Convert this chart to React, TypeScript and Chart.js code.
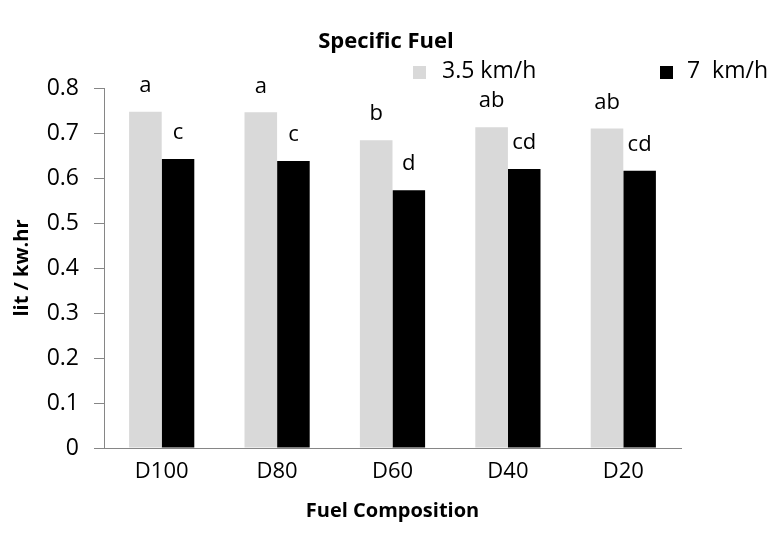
import React, { useEffect, useRef } from "react";
import { Chart, registerables } from "chart.js";

Chart.register(...registerables);

const categories = ["D100", "D80", "D60", "D40", "D20"];
const seriesNames = ["3.5 km/h", "7  km/h"];
const slowValues = [0.747, 0.746, 0.684, 0.713, 0.71];
const fastValues = [0.642, 0.638, 0.573, 0.62, 0.616];
const slowLetters = ["a", "a", "b", "ab", "ab"];
const fastLetters = ["c", "c", "d", "cd", "cd"];
const yTicks = [0, 0.1, 0.2, 0.3, 0.4, 0.5, 0.6, 0.7, 0.8];
const chartTitle = "Specific Fuel";

const FONT = "'Open Sans', 'Noto Sans', sans-serif";

const letterPlugin = {
  id: "letters",
  afterDatasetsDraw(chart: any) {
    const ctx = chart.ctx;
    const sets = [slowLetters, fastLetters];
    ctx.save();
    ctx.fillStyle = "#000";
    ctx.font = `22px ${FONT}`;
    ctx.textAlign = "center";
    ctx.textBaseline = "middle";
    sets.forEach((letters, di) => {
      const meta = chart.getDatasetMeta(di);
      meta.data.forEach((bar: any, i: number) => {
        ctx.fillText(letters[i], bar.x, bar.y - 26);
      });
    });
    ctx.restore();
  },
};

const headerPlugin = {
  id: "header",
  afterDraw(chart: any) {
    const ctx = chart.ctx;
    ctx.save();
    ctx.fillStyle = "#000";
    ctx.font = `bold 22px ${FONT}`;
    ctx.textAlign = "center";
    ctx.textBaseline = "middle";
    ctx.fillText(chartTitle, 386, 42);

    const items = [
      { sx: 413, tx: 442, color: "#d9d9d9", text: seriesNames[0] },
      { sx: 660, tx: 687, color: "#000000", text: seriesNames[1] },
    ];
    ctx.font = `23px ${FONT}`;
    ctx.textAlign = "left";
    items.forEach((it) => {
      ctx.fillStyle = it.color;
      ctx.fillRect(it.sx, 66, 13, 13);
      ctx.fillStyle = "#000";
      ctx.fillText(it.text, it.tx, 71);
    });
    ctx.restore();
  },
};

export default function App() {
  const ref = useRef<HTMLCanvasElement>(null);
  useEffect(() => {
    document.body.style.margin = "0";
    const chart = new Chart(ref.current!, {
      type: "bar",
      data: {
        labels: categories,
        datasets: [
          {
            label: seriesNames[0],
            data: slowValues,
            backgroundColor: "#d9d9d9",
            categoryPercentage: 0.565,
            barPercentage: 1,
          },
          {
            label: seriesNames[1],
            data: fastValues,
            backgroundColor: "#000000",
            categoryPercentage: 0.565,
            barPercentage: 1,
          },
        ],
      },
      options: {
        responsive: false,
        animation: false,
        layout: { padding: { left: 0, right: 91, top: 88, bottom: 0 } },
        plugins: {
          legend: { display: false },
          tooltip: { enabled: false },
          title: { display: false },
        },
        scales: {
          x: {
            grid: { display: false, drawTicks: false },
            border: { display: true, color: "#868686" },
            ticks: {
              color: "#000",
              font: { family: FONT, size: 22 },
              padding: 11,
            },
            title: {
              display: true,
              text: "Fuel Composition",
              color: "#000",
              font: { family: FONT, size: 20, weight: "bold" },
              padding: { top: 0, bottom: 14 },
            },
            afterFit: (s: any) => {
              s.height = 89;
            },
          },
          y: {
            min: 0,
            max: 0.8,
            afterBuildTicks: (s: any) => {
              s.ticks = yTicks.map((v) => ({ value: v }));
            },
            grid: {
              drawOnChartArea: false,
              drawTicks: true,
              tickLength: 10,
              color: "#868686",
            },
            border: { display: true, color: "#868686" },
            ticks: {
              color: "#000",
              font: { family: FONT, size: 23 },
              padding: 15,
              callback: (v: any) => String(Math.round(Number(v) * 10) / 10),
            },
            title: {
              display: true,
              text: "lit / kw.hr",
              color: "#000",
              font: { family: FONT, size: 20, weight: "bold" },
              padding: { top: 10, bottom: 0 },
            },
            afterFit: (s: any) => {
              s.width = 104;
            },
          },
        },
      },
      plugins: [letterPlugin, headerPlugin],
    });
    return () => chart.destroy();
  }, []);
  return (
    <div style={{ width: 772, height: 537, background: "#fff" }}>
      <canvas ref={ref} width={772} height={537} />
    </div>
  );
}
